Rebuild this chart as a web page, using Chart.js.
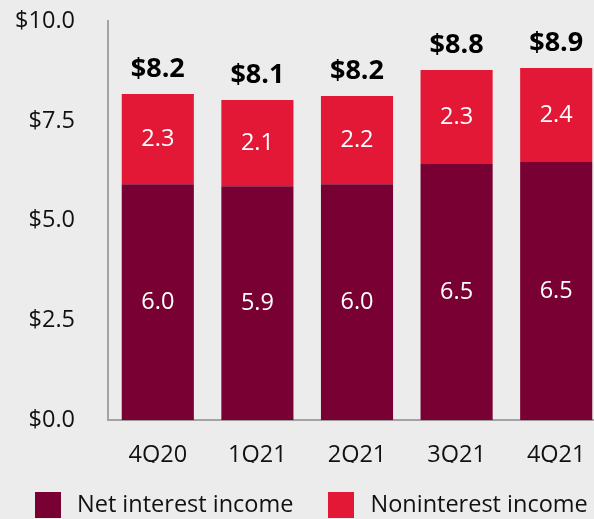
<!DOCTYPE html>
<html>
<head>
<meta charset="utf-8">
<script src="https://cdn.jsdelivr.net/npm/chart.js@4/dist/chart.umd.min.js"></script>
<style>
  html, body { margin: 0; padding: 0; background: #ececec; overflow: hidden; }
  #wrap { width: 640px; height: 527px; }
</style>
</head>
<body>
<div id="wrap"><canvas id="c" width="640" height="527"></canvas></div>
<script>
// ---- data ----
const categories = ['4Q20', '1Q21', '2Q21', '3Q21', '4Q21'];
const netInterestIncome = [5.91, 5.86, 5.91, 6.42, 6.47];
const nonInterestIncome = [2.26, 2.16, 2.21, 2.35, 2.35];
const netInterestLabels = ['6.0', '5.9', '6.0', '6.5', '6.5'];
const nonInterestLabels = ['2.3', '2.1', '2.2', '2.3', '2.4'];
const totalLabels = ['$8.2', '$8.1', '$8.2', '$8.8', '$8.9'];
const seriesNames = ['Net interest income', 'Noninterest income'];
const yTicks = [0, 2.5, 5, 7.5, 10];

const MAROON = '#780032';
const RED = '#e31837';
const FONT = "'Open Sans', 'Noto Sans', sans-serif";
const FS = 23.5;

function swatch(color) {
  const c = document.createElement('canvas');
  c.width = 26; c.height = 26;
  const g = c.getContext('2d');
  g.fillStyle = color;
  g.fillRect(0, 0, 26, 26);
  return c;
}

const barLabelPlugin = {
  id: 'barLabels',
  afterDatasetsDraw(chart) {
    const ctx = chart.ctx;
    ctx.save();
    ctx.textAlign = 'center';
    ctx.textBaseline = 'middle';
    const segLabels = [netInterestLabels, nonInterestLabels];
    chart.data.datasets.forEach((ds, di) => {
      const meta = chart.getDatasetMeta(di);
      meta.data.forEach((el, i) => {
        ctx.fillStyle = '#ffffff';
        ctx.font = FS + 'px ' + FONT;
        ctx.fillText(segLabels[di][i], el.x, (el.y + el.base) / 2);
      });
    });
    const top = chart.getDatasetMeta(1);
    top.data.forEach((el, i) => {
      ctx.fillStyle = '#000000';
      ctx.font = 'bold 27px ' + FONT;
      ctx.fillText(totalLabels[i], el.x, el.y - 25);
    });
    ctx.restore();
  }
};

new Chart(document.getElementById('c'), {
  type: 'bar',
  data: {
    labels: categories,
    datasets: [
      { label: seriesNames[0], data: netInterestIncome, backgroundColor: MAROON, pointStyle: swatch(MAROON) },
      { label: seriesNames[1], data: nonInterestIncome, backgroundColor: RED, pointStyle: swatch(RED) }
    ]
  },
  options: {
    responsive: false,
    animation: false,
    devicePixelRatio: 1,
    layout: { padding: { top: 21, left: 0, right: 0, bottom: 0 } },
    datasets: { bar: { categoryPercentage: 1, barPercentage: 0.724 } },
    scales: {
      x: {
        stacked: true,
        grid: { display: false, drawTicks: false },
        border: { display: true, color: '#a3a3a3', width: 2 },
        ticks: { color: '#111', font: { family: FONT, size: FS }, padding: 21, maxRotation: 0 },
        afterFit(s) { s.height = 42.5; s.paddingLeft = 0; s.paddingRight = 0; }
      },
      y: {
        stacked: true,
        min: 0, max: 10,
        afterBuildTicks(s) { s.ticks = yTicks.map(v => ({ value: v })); },
        grid: { display: false, drawTicks: false },
        border: { display: true, color: '#a3a3a3', width: 2 },
        ticks: {
          color: '#111', font: { family: FONT, size: FS }, padding: 33,
          callback: v => '$' + Number(v).toFixed(1)
        },
        afterFit(s) { s.width = 108; s.paddingTop = 0; s.paddingBottom = 0; }
      },
      pad: {
        position: 'right',
        display: true,
        grid: { display: false, drawTicks: false },
        border: { display: false },
        ticks: { display: false },
        afterFit(s) { s.width = 34; s.paddingTop = 0; s.paddingBottom = 0; }
      }
    },
    plugins: {
      legend: {
        position: 'bottom',
        align: 'start',
        labels: {
          usePointStyle: true,
          pointStyleWidth: 34.5,
          padding: 30.75,
          color: '#111',
          font: { family: FONT, size: FS }
        }
      },
      tooltip: { enabled: false }
    }
  },
  plugins: [barLabelPlugin]
});
</script>
</body>
</html>
